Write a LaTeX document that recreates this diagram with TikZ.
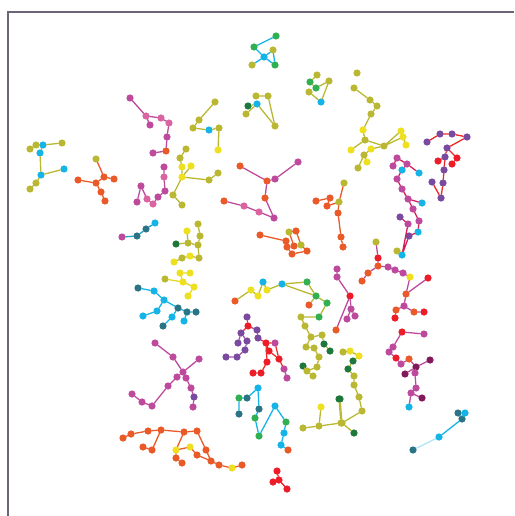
\documentclass[tikz,border=0pt]{standalone}
\usepackage{xcolor}
\usepackage{tikz}
\definecolor{framegray}{RGB}{110,100,122}
\definecolor{olv}{RGB}{186,184,50}
\definecolor{yel}{RGB}{238,224,30}
\definecolor{cyn}{RGB}{20,180,230}
\definecolor{grn}{RGB}{48,176,80}
\definecolor{dgr}{RGB}{30,120,60}
\definecolor{tl}{RGB}{42,116,134}
\definecolor{mag}{RGB}{190,74,158}
\definecolor{pnk}{RGB}{218,100,160}
\definecolor{orn}{RGB}{234,90,40}
\definecolor{rd}{RGB}{236,28,40}
\definecolor{pur}{RGB}{122,74,160}
\definecolor{wine}{RGB}{130,26,90}
\definecolor{crim}{RGB}{212,30,90}

\begin{document}
\begin{tikzpicture}[x=1pt, y=-1pt, dot/.style={circle, inner sep=0pt, minimum size=7.2pt}, link/.style={line width=1.3pt, line cap=round}]
\useasboundingbox (0,0) rectangle (514,516);
\draw[framegray, line width=2pt] (8,516) -- (8,12) -- (514,12);
% top left magenta
\node[dot, fill=mag] (a1) at (130,98) {}; \node[dot, fill=pnk] (a2) at (146,116) {}; \node[dot, fill=mag] (a3) at (150,125) {};
\node[dot, fill=pnk] (a4) at (161,118) {}; \node[dot, fill=pnk] (a5) at (169,123) {}; \node[dot, fill=mag] (a6) at (167,137) {};
\node[dot, fill=orn] (a7) at (166,151) {}; \node[dot, fill=mag] (a8) at (153,153) {};
\draw[link, mag] (a1) -- (a2) (a2) -- (a3) (a2) -- (a4) (a4) -- (a5) (a5) -- (a6) (a6) -- (a7) (a7) -- (a8);
% top cyan
\node[dot, fill=grn] (b1) at (276,36) {}; \node[dot, fill=grn] (b2) at (254,47) {}; \node[dot, fill=olv] (b3) at (273,50) {};
\node[dot, fill=cyn] (b4) at (264,57) {}; \node[dot, fill=olv] (b5) at (252,65) {}; \node[dot, fill=grn] (b6) at (275,65) {};
\draw[link, cyn] (b1) -- (b2) (b2) -- (b4) (b4) -- (b5) (b4) -- (b3) (b4) -- (b6) (b3) -- (b6);
\node[dot, fill=olv] (c1) at (317,75) {}; \node[dot, fill=grn] (c2) at (310,82) {}; \node[dot, fill=grn] (c3) at (316,88) {};
\node[dot, fill=olv] (c4) at (329,81) {}; \node[dot, fill=olv] (c5) at (309,92) {}; \node[dot, fill=cyn] (c6) at (321,102) {};
\draw[link, olv] (c1) -- (c2) (c2) -- (c3) (c3) -- (c4) (c4) -- (c6) (c5) -- (c6);
\node[dot, fill=olv] (d1) at (256,96) {}; \node[dot, fill=olv] (d2) at (268,96) {}; \node[dot, fill=dgr] (d3) at (248,106) {};
\node[dot, fill=cyn] (d4) at (257,104) {}; \node[dot, fill=olv] (d5) at (246,114) {}; \node[dot, fill=olv] (d6) at (275,126) {};
\draw[link, olv] (d1) -- (d2) (d2) -- (d6) (d4) -- (d6) (d4) -- (d3) (d4) -- (d5);
\node[dot, fill=olv] (e1) at (215,102) {}; \node[dot, fill=olv] (e2) at (199,120) {}; \node[dot, fill=olv] (e3) at (193,128) {};
\node[dot, fill=cyn] (e4) at (209,130) {}; \node[dot, fill=olv] (e5) at (219,128) {}; \node[dot, fill=yel] (e6) at (218,150) {};
\draw[link, olv] (e1) -- (e2) (e2) -- (e3) (e3) -- (e4) (e4) -- (e5) (e5) -- (e6);
% left
\node[dot, fill=olv] (f1) at (62,143) {}; \node[dot, fill=cyn] (f2) at (43,145) {}; \node[dot, fill=olv] (f3) at (36,145) {};
\node[dot, fill=olv] (f4) at (30,149) {}; \node[dot, fill=cyn] (f5) at (40,153) {}; \node[dot, fill=cyn] (f6) at (41,175) {};
\node[dot, fill=cyn] (f7) at (64,169) {}; \node[dot, fill=olv] (f8) at (36,183) {}; \node[dot, fill=olv] (f9) at (30,189) {};
\draw[link, olv] (f1) -- (f2) (f2) -- (f5) (f4) -- (f3) (f3) -- (f2) (f5) -- (f6) (f6) -- (f7) (f6) -- (f8) (f8) -- (f9);
\node[dot, fill=olv] (g1) at (96,159) {}; \node[dot, fill=orn] (g2) at (78,180) {}; \node[dot, fill=orn] (g3) at (96,183) {};
\node[dot, fill=orn] (g4) at (104,177) {}; \node[dot, fill=orn] (g5) at (114,179) {}; \node[dot, fill=orn] (g6) at (101,192) {};
\node[dot, fill=orn] (g7) at (105,201) {};
\draw[link, orn] (g1) -- (g4) (g2) -- (g3) (g3) -- (g4) (g4) -- (g5) (g3) -- (g6) (g6) -- (g7);
\node[dot, fill=mag] (h1) at (164,167) {}; \node[dot, fill=pnk] (h2) at (164,177) {}; \node[dot, fill=mag] (h3) at (165,191) {};
\node[dot, fill=mag] (h4) at (158,197) {}; \node[dot, fill=pnk] (h5) at (153,204) {}; \node[dot, fill=pnk] (h6) at (147,199) {};
\node[dot, fill=mag] (h7) at (141,186) {}; \node[dot, fill=mag] (h8) at (137,202) {};
\draw[link, mag] (h1) -- (h2) (h2) -- (h3) (h3) -- (h4) (h4) -- (h5) (h5) -- (h6) (h6) -- (h7) (h7) -- (h8);
\node[dot, fill=mag] (i1) at (122,237) {}; \node[dot, fill=tl] (i2) at (137,236) {}; \node[dot, fill=tl] (i3) at (146,229) {};
\node[dot, fill=cyn] (i4) at (155,223) {};
\draw[link, cyn!70!tl] (i1) -- (i2) (i2) -- (i3) (i3) -- (i4);
\node[dot, fill=olv] (j1) at (186,149) {}; \node[dot, fill=olv] (j2) at (180,158) {}; \node[dot, fill=yel] (j3) at (182,167) {};
\node[dot, fill=yel] (j4) at (191,166) {}; \node[dot, fill=yel] (j5) at (182,177) {}; \node[dot, fill=olv] (j6) at (209,180) {};
\node[dot, fill=olv] (j7) at (218,173) {}; \node[dot, fill=olv] (j8) at (173,195) {}; \node[dot, fill=olv] (j9) at (182,205) {};
\draw[link, olv] (j1) -- (j2) (j2) -- (j3) (j3) -- (j5) (j4) -- (j5) (j5) -- (j6) (j6) -- (j7) (j5) -- (j8) (j8) -- (j9);
% centre
\node[dot, fill=orn] (k1) at (240,166) {}; \node[dot, fill=orn] (k2) at (267,181) {}; \node[dot, fill=mag] (k3) at (275,179) {};
\node[dot, fill=mag] (k4) at (298,162) {}; \node[dot, fill=orn] (k5) at (265,198) {}; \node[dot, fill=mag] (k6) at (274,218) {};
\node[dot, fill=orn] (k7) at (224,201) {}; \node[dot, fill=pnk] (k8) at (244,206) {}; \node[dot, fill=pnk] (k9) at (259,212) {};
\draw[link, mag] (k1) -- (k2) (k2) -- (k3) (k3) -- (k4) (k2) -- (k5) (k5) -- (k6) (k7) -- (k8) (k8) -- (k9) (k9) -- (k6);
\node[dot, fill=orn] (l1) at (260,235) {}; \node[dot, fill=orn] (l2) at (286,241) {}; \node[dot, fill=olv] (l3) at (289,232) {};
\node[dot, fill=orn] (l4) at (296,231) {}; \node[dot, fill=orn] (l5) at (287,247) {}; \node[dot, fill=orn] (l6) at (294,246) {};
\node[dot, fill=olv] (l7) at (301,245) {}; \node[dot, fill=orn] (l8) at (292,254) {}; \node[dot, fill=orn] (l9) at (307,251) {};
\draw[link, orn] (l1) -- (l2) (l2) -- (l5) (l5) -- (l8) (l8) -- (l9) (l9) -- (l7) (l7) -- (l4) (l4) -- (l3) (l3) -- (l6);
\node[dot, fill=olv] (m1) at (198,224) {}; \node[dot, fill=olv] (m2) at (200,236) {}; \node[dot, fill=yel] (m3) at (187,231) {};
\node[dot, fill=dgr] (m4) at (176,244) {}; \node[dot, fill=olv] (m5) at (188,243) {}; \node[dot, fill=olv] (m6) at (198,245) {};
\node[dot, fill=olv] (m7) at (182,258) {}; \node[dot, fill=yel] (m8) at (190,256) {}; \node[dot, fill=olv] (m9) at (199,258) {};
\node[dot, fill=yel] (m10) at (174,262) {};
\draw[link, olv] (m1) -- (m2) (m2) -- (m6) (m3) -- (m5) (m4) -- (m5) (m5) -- (m6) (m6) -- (m9) (m7) -- (m8) (m8) -- (m9) (m7) -- (m10);
\node[dot, fill=orn] (n1) at (316,201) {}; \node[dot, fill=orn] (n2) at (330,198) {}; \node[dot, fill=orn] (n3) at (327,206) {};
\node[dot, fill=olv] (n4) at (339,202) {}; \node[dot, fill=olv] (n5) at (344,183) {}; \node[dot, fill=orn] (n6) at (338,213) {};
\node[dot, fill=orn] (n7) at (341,237) {}; \node[dot, fill=orn] (n8) at (343,247) {};
\draw[link, orn] (n1) -- (n2) (n2) -- (n3) (n3) -- (n4) (n4) -- (n5) (n4) -- (n6) (n6) -- (n7) (n7) -- (n8);
% top right
\node[dot, fill=olv] (o0) at (357,73) {}; \node[dot, fill=olv] (o1) at (354,88) {}; \node[dot, fill=olv] (o2) at (370,100) {};
\node[dot, fill=olv] (o3) at (377,106) {}; \node[dot, fill=olv] (o4) at (371,114) {}; \node[dot, fill=yel] (o5) at (363,130) {};
\node[dot, fill=yel] (o6) at (401,131) {}; \node[dot, fill=olv] (o7) at (365,140) {}; \node[dot, fill=yel] (o8) at (403,137) {};
\node[dot, fill=yel] (o9) at (406,145) {}; \node[dot, fill=olv] (o10) at (384,146) {}; \node[dot, fill=yel] (o11) at (351,150) {};
\node[dot, fill=yel] (o12) at (371,149) {}; \node[dot, fill=olv] (o13) at (364,155) {}; \node[dot, fill=yel] (o14) at (367,162) {};
\node[dot, fill=olv] (o15) at (358,168) {};
\draw[link, olv] (o1) -- (o2) (o2) -- (o3) (o3) -- (o4) (o4) -- (o5) (o5) -- (o7) (o7) -- (o10) (o7) -- (o11) (o6) -- (o10) (o8) -- (o10) (o8) -- (o9) (o10) -- (o12) (o12) -- (o13) (o13) -- (o14) (o13) -- (o15);
\node[dot, fill=pur] (p1) at (427,142) {}; \node[dot, fill=pur] (p2) at (440,134) {}; \node[dot, fill=pur] (p3) at (452,134) {};
\node[dot, fill=pur] (p4) at (467,137) {}; \node[dot, fill=pur] (p5) at (447,148) {}; \node[dot, fill=pur] (p6) at (445,157) {};
\node[dot, fill=rd] (p7) at (457,158) {}; \node[dot, fill=rd] (p8) at (438,161) {}; \node[dot, fill=rd] (p9) at (452,164) {};
\node[dot, fill=pur] (p10) at (444,170) {}; \node[dot, fill=pur] (p11) at (432,182) {}; \node[dot, fill=pur] (p12) at (443,183) {};
\node[dot, fill=pur] (p13) at (441,198) {};
\draw[link, rd!80!orn] (p1) -- (p2) (p2) -- (p3) (p3) -- (p4) (p4) -- (p5) (p5) -- (p6) (p5) -- (p7) (p7) -- (p9) (p6) -- (p8) (p6) -- (p10) (p10) -- (p12) (p12) -- (p13) (p11) -- (p13);
\node[dot, fill=mag] (q1) at (397,158) {}; \node[dot, fill=mag] (q2) at (393,166) {}; \node[dot, fill=mag] (q3) at (407,164) {};
\node[dot, fill=cyn] (q4) at (402,170) {}; \node[dot, fill=cyn] (q5) at (419,173) {}; \node[dot, fill=mag] (q6) at (397,179) {};
\node[dot, fill=mag] (q7) at (402,189) {}; \node[dot, fill=mag] (q8) at (408,199) {}; \node[dot, fill=cyn] (q9) at (422,203) {};
\node[dot, fill=mag] (q10) at (413,209) {}; \node[dot, fill=pur] (q11) at (400,217) {}; \node[dot, fill=mag] (q12) at (419,221) {};
\node[dot, fill=mag] (q13) at (408,224) {}; \node[dot, fill=cyn] (q14) at (418,232) {}; \node[dot, fill=pur] (q15) at (409,236) {};
\node[dot, fill=cyn] (q16) at (402,255) {}; \node[dot, fill=olv] (q17) at (397,251) {};
\draw[link, crim] (q1) -- (q2) (q1) -- (q3) (q3) -- (q5) (q3) -- (q4) (q4) -- (q6) (q6) -- (q7) (q7) -- (q8) (q8) -- (q9) (q8) -- (q10) (q10) -- (q12) (q12) -- (q14) (q14) -- (q15) (q11) -- (q13) (q13) -- (q16) (q15) -- (q16);
% right middle
\node[dot, fill=olv] (r1) at (376,242) {}; \node[dot, fill=rd] (r2) at (378,258) {}; \node[dot, fill=orn] (r3) at (378,266) {};
\node[dot, fill=mag] (r4) at (388,267) {}; \node[dot, fill=mag] (r5) at (395,270) {}; \node[dot, fill=mag] (r6) at (403,273) {};
\node[dot, fill=yel] (r7) at (410,277) {}; \node[dot, fill=orn] (r8) at (368,273) {}; \node[dot, fill=orn] (r9) at (362,281) {};
\node[dot, fill=rd] (r10) at (428,278) {}; \node[dot, fill=orn] (r11) at (406,294) {}; \node[dot, fill=mag] (r12) at (404,306) {};
\node[dot, fill=orn] (r13) at (396,310) {}; \node[dot, fill=rd] (r14) at (395,318) {}; \node[dot, fill=orn] (r15) at (414,312) {};
\node[dot, fill=rd] (r16) at (424,312) {};
\draw[link, mag] (r1) -- (r2) (r2) -- (r3) (r3) -- (r4) (r4) -- (r5) (r5) -- (r6) (r6) -- (r7) (r3) -- (r8) (r8) -- (r9) (r7) -- (r11) (r10) -- (r11) (r11) -- (r12) (r12) -- (r13) (r13) -- (r14) (r12) -- (r15) (r15) -- (r16);
\node[dot, fill=mag] (s1) at (337,269) {}; \node[dot, fill=mag] (s2) at (337,277) {}; \node[dot, fill=rd] (s3) at (350,296) {};
\node[dot, fill=mag] (s4) at (351,309) {}; \node[dot, fill=mag] (s5) at (355,316) {}; \node[dot, fill=mag] (s6) at (347,319) {};
\node[dot, fill=orn] (s7) at (336,330) {};
\draw[link, mag] (s1) -- (s2) (s2) -- (s3) (s3) -- (s4) (s4) -- (s5) (s4) -- (s6) (s3) -- (s7);
\node[dot, fill=rd] (t1) at (402,332) {}; \node[dot, fill=mag] (t2) at (424,334) {}; \node[dot, fill=mag] (t3) at (393,347) {};
\node[dot, fill=mag] (t4) at (389,352) {}; \node[dot, fill=rd] (t5) at (396,358) {}; \node[dot, fill=orn] (t6) at (409,359) {};
\node[dot, fill=mag] (t7) at (401,364) {}; \node[dot, fill=wine] (t8) at (430,360) {}; \node[dot, fill=wine] (t9) at (416,367) {};
\node[dot, fill=wine] (t10) at (405,374) {}; \node[dot, fill=mag] (t11) at (415,373) {}; \node[dot, fill=mag] (t12) at (416,388) {};
\node[dot, fill=mag] (t13) at (411,393) {}; \node[dot, fill=wine] (t14) at (422,398) {}; \node[dot, fill=cyn] (t15) at (409,407) {};
\draw[link, mag] (t1) -- (t2) (t1) -- (t3) (t3) -- (t4) (t4) -- (t5) (t5) -- (t7) (t7) -- (t6) (t6) -- (t9) (t9) -- (t8) (t9) -- (t10) (t9) -- (t11) (t11) -- (t12) (t12) -- (t13) (t13) -- (t14) (t13) -- (t15);
\node[dot, fill=olv] (u1) at (343,352) {}; \node[dot, fill=yel] (u2) at (350,351) {}; \node[dot, fill=yel] (u3) at (359,356) {};
\node[dot, fill=dgr] (u4) at (353,361) {}; \node[dot, fill=dgr] (u5) at (348,369) {}; \node[dot, fill=olv] (u6) at (354,376) {};
\node[dot, fill=olv] (u7) at (354,385) {}; \node[dot, fill=dgr] (u8) at (340,399) {}; \node[dot, fill=olv] (u9) at (359,397) {};
\node[dot, fill=olv] (u10) at (362,411) {}; \node[dot, fill=olv] (u11) at (342,423) {}; \node[dot, fill=dgr] (u12) at (354,433) {};
\draw[link, olv] (u1) -- (u2) (u2) -- (u3) (u3) -- (u4) (u4) -- (u5) (u5) -- (u6) (u6) -- (u7) (u7) -- (u9) (u9) -- (u10) (u10) -- (u11) (u11) -- (u12) (u8) -- (u11);
\node[dot, fill=tl] (v1) at (458,413) {}; \node[dot, fill=cyn] (v2) at (465,413) {}; \node[dot, fill=tl] (v3) at (462,419) {};
\node[dot, fill=cyn] (v4) at (439,437) {}; \node[dot, fill=tl] (v5) at (413,450) {};
\draw[link, cyn] (v1) -- (v3) (v2) -- (v3) (v3) -- (v4);
\draw[link, cyn!35] (v4) -- (v5);
% bottom
\node[dot, fill=yel] (w1) at (321,407) {}; \node[dot, fill=dgr] (w2) at (339,399) {}; \node[dot, fill=olv] (w3) at (303,428) {};
\node[dot, fill=olv] (w4) at (319,426) {}; \node[dot, fill=olv] (w5) at (341,423) {};
\draw[link, olv] (w1) -- (w4) (w3) -- (w4) (w4) -- (w5) (w2) -- (w5);
\node[dot, fill=grn] (x1) at (239,398) {}; \node[dot, fill=tl] (x2) at (247,398) {}; \node[dot, fill=cyn] (x3) at (258,388) {};
\node[dot, fill=tl] (x4) at (239,414) {}; \node[dot, fill=tl] (x5) at (259,409) {}; \node[dot, fill=grn] (x6) at (255,418) {};
\node[dot, fill=grn] (x7) at (259,436) {}; \node[dot, fill=cyn] (x8) at (275,406) {}; \node[dot, fill=grn] (x9) at (286,422) {};
\node[dot, fill=cyn] (x10) at (284,433) {}; \node[dot, fill=cyn] (x11) at (281,445) {}; \node[dot, fill=orn] (x12) at (288,450) {};
\draw[link, cyn] (x1) -- (x2) (x2) -- (x3) (x1) -- (x4) (x3) -- (x5) (x5) -- (x6) (x6) -- (x7) (x7) -- (x8) (x8) -- (x9) (x9) -- (x10) (x10) -- (x11) (x11) -- (x12);
\node[dot, fill=rd] (y1) at (277,471) {}; \node[dot, fill=rd] (y2) at (279,480) {}; \node[dot, fill=rd] (y3) at (273,482) {};
\node[dot, fill=rd] (y4) at (287,489) {};
\draw[link, rd] (y1) -- (y2) (y2) -- (y3) (y2) -- (y4);
\node[dot, fill=mag] (z1) at (155,343) {}; \node[dot, fill=mag] (z2) at (173,357) {}; \node[dot, fill=mag] (z3) at (199,359) {};
\node[dot, fill=mag] (z4) at (183,372) {}; \node[dot, fill=mag] (z5) at (177,377) {}; \node[dot, fill=mag] (z6) at (186,378) {};
\node[dot, fill=mag] (z7) at (191,388) {}; \node[dot, fill=pur] (z8) at (194,397) {}; \node[dot, fill=mag] (z9) at (193,407) {};
\node[dot, fill=mag] (z10) at (168,386) {}; \node[dot, fill=mag] (z11) at (152,406) {}; \node[dot, fill=mag] (z12) at (142,402) {};
\node[dot, fill=mag] (z13) at (132,394) {};
\draw[link, mag] (z1) -- (z2) (z2) -- (z4) (z3) -- (z4) (z4) -- (z5) (z4) -- (z6) (z6) -- (z7) (z7) -- (z8) (z8) -- (z9) (z5) -- (z10) (z10) -- (z11) (z11) -- (z12) (z12) -- (z13);
\node[dot, fill=orn] (bo1) at (123,438) {}; \node[dot, fill=orn] (bo2) at (131,434) {}; \node[dot, fill=orn] (bo3) at (148,431) {};
\node[dot, fill=orn] (bo4) at (161,430) {}; \node[dot, fill=orn] (bo5) at (143,447) {}; \node[dot, fill=orn] (bo6) at (152,450) {};
\node[dot, fill=orn] (bo7) at (184,432) {}; \node[dot, fill=orn] (bo8) at (197,431) {}; \node[dot, fill=yel] (bo9) at (176,450) {};
\node[dot, fill=yel] (bo10) at (190,447) {}; \node[dot, fill=orn] (bo12) at (176,458) {}; \node[dot, fill=orn] (bo13) at (182,463) {};
\node[dot, fill=orn] (bo14) at (197,455) {}; \node[dot, fill=orn] (bo15) at (206,450) {}; \node[dot, fill=orn] (bo16) at (211,461) {};
\node[dot, fill=orn] (bo17) at (219,465) {}; \node[dot, fill=yel] (bo18) at (232,468) {}; \node[dot, fill=orn] (bo19) at (242,465) {};
\draw[link, orn] (bo1) -- (bo2) (bo2) -- (bo3) (bo3) -- (bo4) (bo4) -- (bo7) (bo4) -- (bo6) (bo6) -- (bo5) (bo7) -- (bo8) (bo7) -- (bo9) (bo9) -- (bo10) (bo9) -- (bo12) (bo12) -- (bo13) (bo8) -- (bo15) (bo15) -- (bo16) (bo10) -- (bo14) (bo14) -- (bo16) (bo16) -- (bo17) (bo17) -- (bo18) (bo18) -- (bo19);
% lower left middle
\node[dot, fill=tl] (cy1) at (138,288) {}; \node[dot, fill=cyn] (cy2) at (154,291) {}; \node[dot, fill=cyn] (cy3) at (164,300) {};
\node[dot, fill=cyn] (cy4) at (157,311) {}; \node[dot, fill=cyn] (cy5) at (143,316) {}; \node[dot, fill=tl] (cy6) at (178,308) {};
\node[dot, fill=tl] (cy7) at (187,312) {}; \node[dot, fill=tl] (cy8) at (196,312) {}; \node[dot, fill=cyn] (cy9) at (172,317) {};
\node[dot, fill=tl] (cy10) at (163,326) {}; \node[dot, fill=cyn] (cy11) at (184,321) {};
\draw[link, cyn] (cy1) -- (cy2) (cy2) -- (cy3) (cy3) -- (cy4) (cy4) -- (cy5) (cy3) -- (cy6) (cy6) -- (cy7) (cy7) -- (cy8) (cy6) -- (cy9) (cy9) -- (cy10) (cy7) -- (cy11);
\node[dot, fill=olv] (ye1) at (165,279) {}; \node[dot, fill=yel] (ye2) at (180,273) {}; \node[dot, fill=yel] (ye3) at (190,273) {};
\node[dot, fill=yel] (ye4) at (183,282) {}; \node[dot, fill=yel] (ye5) at (194,287) {}; \node[dot, fill=yel] (ye6) at (188,296) {};
\draw[link, yel!80!olv] (ye2) -- (ye3) (ye2) -- (ye4) (ye4) -- (ye5) (ye5) -- (ye6) (ye1) -- (ye4);
\node[dot, fill=orn] (ch1) at (235,301) {}; \node[dot, fill=yel] (ch2) at (251,290) {}; \node[dot, fill=yel] (ch3) at (258,296) {};
\node[dot, fill=cyn] (ch4) at (263,282) {}; \node[dot, fill=yel] (ch5) at (267,290) {}; \node[dot, fill=cyn] (ch6) at (282,284) {};
\node[dot, fill=grn] (ch7) at (307,282) {}; \node[dot, fill=grn] (ch8) at (316,296) {}; \node[dot, fill=orn] (ch9) at (309,305) {};
\node[dot, fill=grn] (ch10) at (327,303) {}; \node[dot, fill=grn] (ch11) at (319,317) {}; \node[dot, fill=olv] (ch12) at (301,317) {};
\node[dot, fill=olv] (ch13) at (305,326) {}; \node[dot, fill=olv] (ch14) at (311,337) {}; \node[dot, fill=olv] (ch15) at (322,335) {};
\node[dot, fill=olv] (ch16) at (306,347) {}; \node[dot, fill=olv] (ch17) at (314,348) {}; \node[dot, fill=dgr] (ch18) at (324,344) {};
\node[dot, fill=dgr] (ch19) at (330,351) {}; \node[dot, fill=olv] (ch20) at (319,357) {}; \node[dot, fill=dgr] (ch21) at (303,366) {};
\node[dot, fill=olv] (ch22) at (317,367) {}; \node[dot, fill=olv] (ch23) at (307,371) {}; \node[dot, fill=olv] (ch24) at (313,376) {};
\draw[link, olv] (ch1) -- (ch2) (ch2) -- (ch3) (ch3) -- (ch4) (ch4) -- (ch5) (ch5) -- (ch6) (ch6) -- (ch7) (ch6) -- (ch8) (ch7) -- (ch8) (ch8) -- (ch9) (ch8) -- (ch10) (ch10) -- (ch11) (ch11) -- (ch12) (ch12) -- (ch13) (ch13) -- (ch14) (ch14) -- (ch15) (ch14) -- (ch16) (ch16) -- (ch17) (ch17) -- (ch20) (ch20) -- (ch22) (ch22) -- (ch23) (ch23) -- (ch24) (ch15) -- (ch18) (ch18) -- (ch19) (ch21) -- (ch23);
\node[dot, fill=pur] (pr1) at (247,317) {}; \node[dot, fill=rd] (pr2) at (248,326) {}; \node[dot, fill=pur] (pr3) at (241,333) {};
\node[dot, fill=pur] (pr4) at (257,330) {}; \node[dot, fill=pur] (pr5) at (258,338) {}; \node[dot, fill=pur] (pr6) at (247,341) {};
\node[dot, fill=pur] (pr7) at (238,343) {}; \node[dot, fill=rd] (pr8) at (266,343) {}; \node[dot, fill=mag] (pr9) at (275,343) {};
\node[dot, fill=pur] (pr10) at (245,350) {}; \node[dot, fill=rd] (pr11) at (269,351) {}; \node[dot, fill=pur] (pr12) at (237,357) {};
\node[dot, fill=pur] (pr13) at (226,357) {}; \node[dot, fill=rd] (pr14) at (279,359) {}; \node[dot, fill=rd] (pr15) at (267,362) {};
\node[dot, fill=mag] (pr16) at (284,369) {}; \node[dot, fill=rd] (pr17) at (253,373) {}; \node[dot, fill=rd] (pr18) at (261,373) {};
\node[dot, fill=mag] (pr19) at (287,378) {};
\draw[link, rd!75!orn] (pr1) -- (pr2) (pr2) -- (pr3) (pr5) -- (pr8) (pr8) -- (pr11) (pr11) -- (pr14) (pr14) -- (pr16) (pr8) -- (pr15) (pr15) -- (pr18) (pr18) -- (pr17) (pr8) -- (pr9) (pr9) -- (pr14);
\draw[link, pur!60!pnk] (pr3) -- (pr7) (pr3) -- (pr6) (pr6) -- (pr10) (pr10) -- (pr12) (pr12) -- (pr13) (pr2) -- (pr4) (pr4) -- (pr5) (pr16) -- (pr19);
\end{tikzpicture}
\end{document}
